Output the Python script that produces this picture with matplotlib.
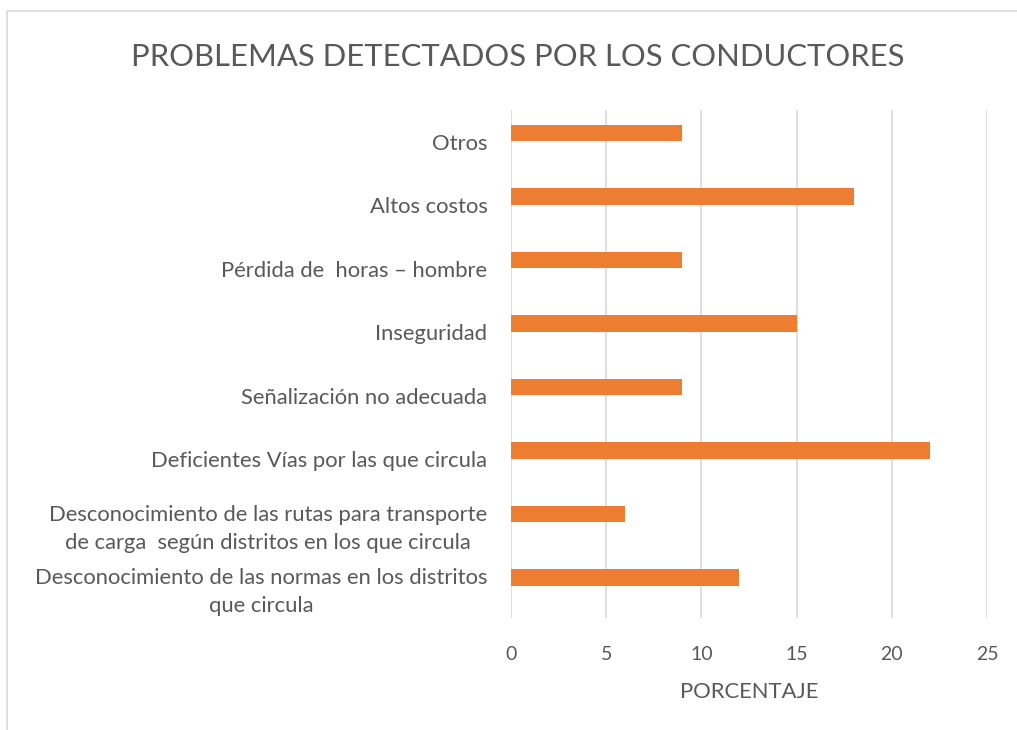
import numpy as np
import matplotlib
matplotlib.use("Agg")
import matplotlib.pyplot as plt
from matplotlib.patches import Rectangle

categorias = [
    "Desconocimiento de las normas en los distritos\nque circula",
    "Desconocimiento de las rutas para transporte\nde carga  según distritos en los que circula",
    "Deficientes Vías por las que circula",
    "Señalización no adecuada",
    "Inseguridad",
    "Pérdida de  horas \u2013 hombre",
    "Altos costos",
    "Otros",
]
porcentaje = [12, 6, 22, 9, 15, 9, 18, 9]
ticks_x = [0, 5, 10, 15, 20, 25]

gris = "#595959"
naranja = "#ED7D31"
plt.rcParams["font.family"] = ["Lato", "DejaVu Sans"]

fig = plt.figure(figsize=(10.17, 7.30), dpi=100)
ax = fig.add_axes([511 / 1017, 1 - 618 / 730, 476 / 1017, 508 / 730])

pos = np.arange(len(categorias))
ax.barh(pos + 0.135, porcentaje, height=0.26, color=naranja, zorder=3)

ax.set_xlim(0, 25)
ax.set_ylim(-0.5, len(categorias) - 0.5)
ax.set_xticks(ticks_x)
ax.set_yticks(pos)
ax.set_yticklabels(categorias, multialignment="center", linespacing=1.5)
ax.grid(axis="x", color="#d9d9d9", linewidth=1.2, zorder=0)
for s in ax.spines.values():
    s.set_visible(False)
ax.tick_params(axis="both", length=0, colors=gris)
ax.tick_params(axis="x", pad=20, labelsize=14)
ax.tick_params(axis="y", pad=17, labelsize=15.8)
ax.set_xlabel("PORCENTAJE", color=gris, fontsize=15.8, labelpad=14)

fig.text(518 / 1017, 1 - 57 / 730, "PROBLEMAS DETECTADOS POR LOS CONDUCTORES",
         ha="center", va="center", color=gris, fontsize=22.3)

fig.patches.append(Rectangle((7 / 1017, -0.1), 1.2, 1 - 11 / 730 + 0.1,
                             transform=fig.transFigure, fill=False,
                             edgecolor="#d9d9d9", linewidth=1.2))

fig.savefig("out.png", dpi=100)
